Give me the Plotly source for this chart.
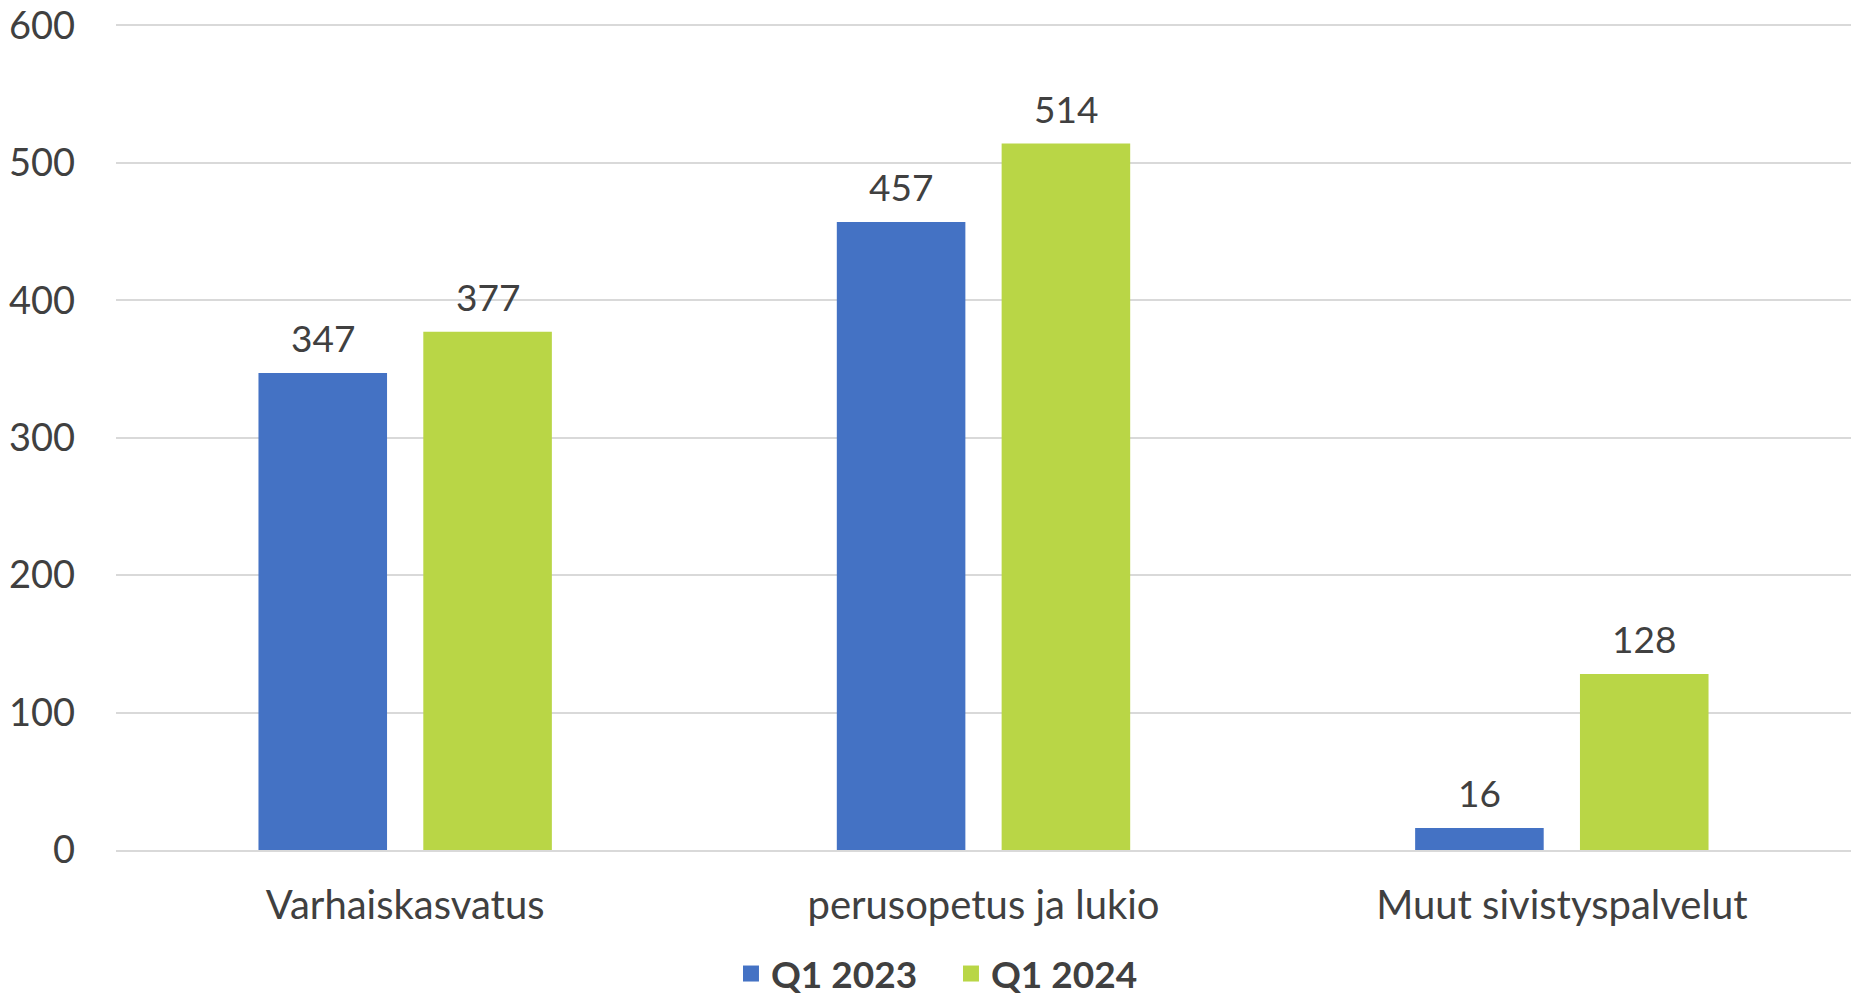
import plotly.graph_objects as go

categories = ["Varhaiskasvatus", "perusopetus ja lukio", "Muut sivistyspalvelut"]
q1_2023 = [347, 457, 16]
q1_2024 = [377, 514, 128]
series_names = ["Q1 2023", "Q1 2024"]
colors = ["#4472C4", "#B9D646"]
y_ticks = [0, 100, 200, 300, 400, 500, 600]

FONT = "Lato"
TXT = "#404040"

fig = go.Figure()
series = [q1_2023, q1_2024]
shifts = [-82.5, 82.5]
for name, vals, color, dx in zip(series_names, series, colors, shifts):
    fig.add_trace(go.Bar(
        x=categories, y=vals, name=name, showlegend=False,
        marker=dict(color=color, line=dict(width=0)),
    ))
    for c, v in zip(categories, vals):
        fig.add_annotation(x=c, y=v, text=str(v), showarrow=False,
                           xshift=dx, yshift=11, yanchor="bottom",
                           font=dict(family=FONT, size=37, color=TXT))
    # legend entry with larger square symbol
    fig.add_trace(go.Scatter(
        x=[None], y=[None], mode="markers", name=name,
        marker=dict(symbol="square", size=24, color=color),
    ))

fig.update_layout(
    width=1861, height=1001,
    margin=dict(l=116, r=10, t=24, b=151),
    plot_bgcolor="white", paper_bgcolor="white",
    barmode="group", bargap=0.43, bargroupgap=0.22,
    font=dict(family=FONT, size=40, color=TXT),
    legend=dict(orientation="h", xref="container", yref="container",
                x=0.511, xanchor="center", y=0.027, yanchor="middle",
                font=dict(family=FONT, size=37, color=TXT, weight="bold"),
                itemsizing="trace", tracegroupgap=0, itemwidth=30,
                entrywidth=175),
    xaxis=dict(showgrid=False, showline=True, linecolor="#D9D9D9", linewidth=2,
               ticks="", ticklabelstandoff=19, tickfont=dict(size=40), automargin=False),
    yaxis=dict(range=[0, 601], tickvals=y_ticks, showgrid=True, gridcolor="#D9D9D9",
               gridwidth=2, zeroline=False, showline=False, ticks="",
               ticklabelstandoff=40, tickfont=dict(size=38), automargin=False),
)

fig.write_html("out.html", config={"displayModeBar": False},
               post_script="document.body.style.margin='0';document.body.style.overflow='hidden';")
